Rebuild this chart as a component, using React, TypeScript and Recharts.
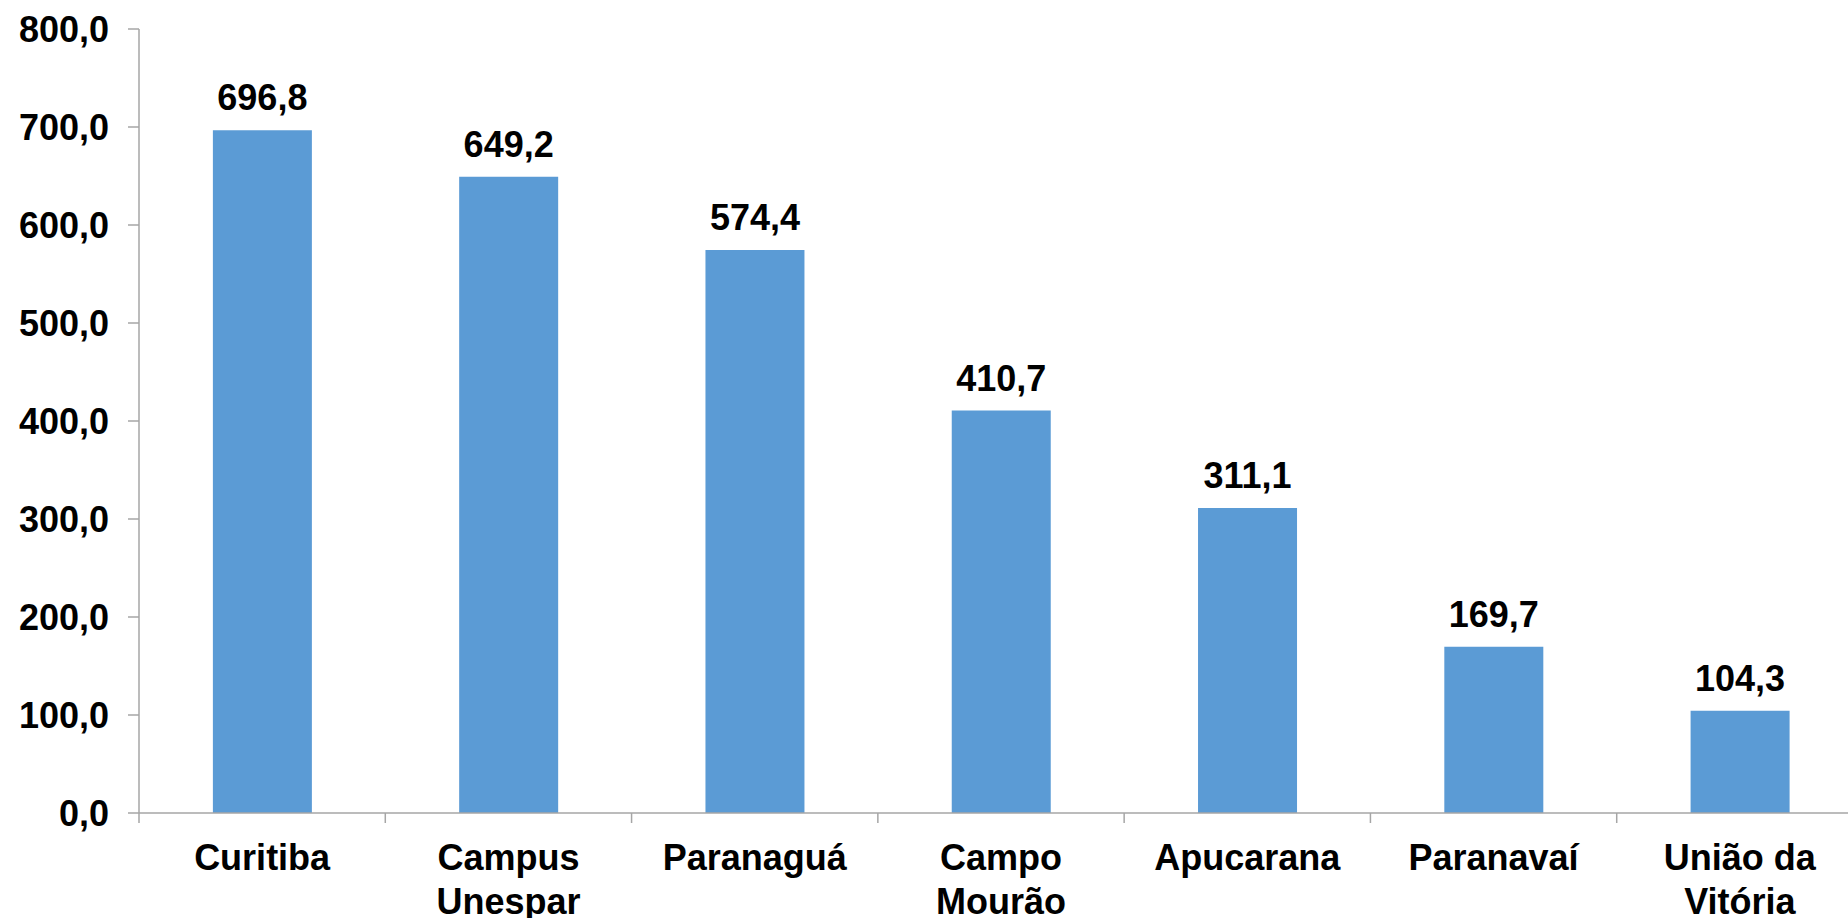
import { BarChart, Bar, XAxis, YAxis, LabelList } from "recharts"

const campi = [
  "Curitiba",
  "Campus Unespar",
  "Paranaguá",
  "Campo Mourão",
  "Apucarana",
  "Paranavaí",
  "União da Vitória",
]
const valores = [696.8, 649.2, 574.4, 410.7, 311.1, 169.7, 104.3]
const yTicks = [0, 100, 200, 300, 400, 500, 600, 700, 800]

const data = campi.map((campus, i) => ({ campus, valor: valores[i] }))

const FONT = '"Liberation Sans", Arial, sans-serif'
const AXIS = "#a6a6a6"

const fmt = (v: number) => v.toFixed(1).replace(".", ",")

function splitName(name: string) {
  const idx = name.lastIndexOf(" ")
  if (idx < 0) return [name]
  return [name.slice(0, idx), name.slice(idx + 1)]
}

function CampusTick(props: any) {
  const { x, y, payload } = props
  const half = payload?.offset ?? 0
  const lines = splitName(String(payload.value))
  return (
    <g>
      <line x1={x - half} x2={x - half} y1={y - 10} y2={y} stroke={AXIS} strokeWidth={1.5} />
      <text
        x={x}
        y={y}
        textAnchor="middle"
        fontFamily={FONT}
        fontSize={36}
        fontWeight="bold"
        fill="#000"
      >
        {lines.map((l, i) => (
          <tspan key={i} x={x} dy={i === 0 ? 47 : 44}>
            {l}
          </tspan>
        ))}
      </text>
    </g>
  )
}

export default function App() {
  return (
    <div
      style={{
        position: "fixed",
        left: 0,
        top: 0,
        width: 1848,
        height: 918,
        overflow: "hidden",
        background: "#fff",
      }}
    >
      <BarChart
        width={1863}
        height={918}
        data={data}
        margin={{ top: 29, right: 0, left: 0, bottom: 0 }}
        barCategoryGap="30%"
      >
        <XAxis
          dataKey="campus"
          height={105}
          tickLine={false}
          tickSize={10}
          tickMargin={0}
          axisLine={{ stroke: AXIS, strokeWidth: 1.5 }}
          tick={<CampusTick />}
          interval={0}
        />
        <YAxis
          width={139}
          domain={[0, 800]}
          ticks={yTicks}
          interval={0}
          tickFormatter={fmt}
          tickSize={11}
          tickMargin={19}
          axisLine={{ stroke: AXIS, strokeWidth: 1.5 }}
          tickLine={{ stroke: AXIS, strokeWidth: 1.5 }}
          tick={{ fill: "#000", fontSize: 36, fontWeight: "bold", fontFamily: FONT }}
        />
        <Bar dataKey="valor" fill="#5b9bd5" isAnimationActive={false}>
          <LabelList
            dataKey="valor"
            position="top"
            offset={20}
            formatter={(v: any) => fmt(Number(v))}
            fill="#000"
            fontSize={36}
            fontWeight="bold"
            fontFamily={FONT}
          />
        </Bar>
      </BarChart>
    </div>
  )
}
